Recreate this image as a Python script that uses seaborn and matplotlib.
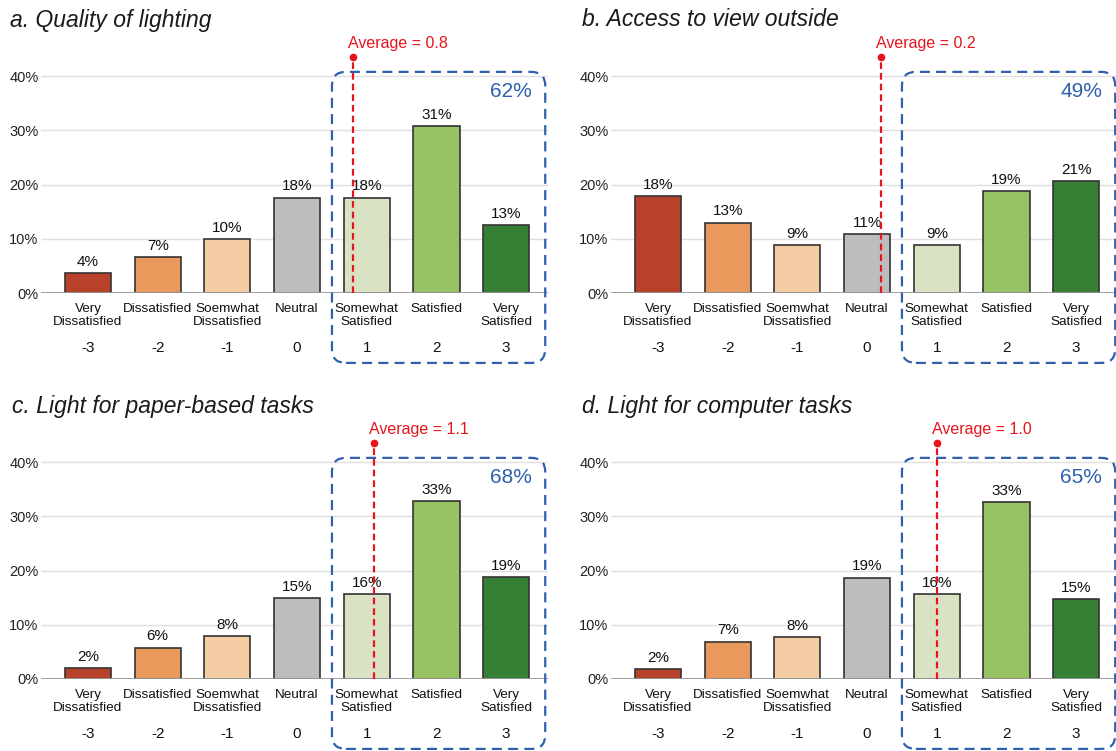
"""Satisfaction distributions (lighting / view) as 2x2 bar panels."""

import matplotlib

matplotlib.use("Agg")
import matplotlib.pyplot as plt
import matplotlib.transforms as mtransforms
from matplotlib.patches import FancyBboxPatch
import pandas as pd
import seaborn as sns

# --- data -------------------------------------------------------------------
categories = [
    "Very\nDissatisfied", "Dissatisfied", "Soemwhat\nDissatisfied", "Neutral",
    "Somewhat\nSatisfied", "Satisfied", "Very\nSatisfied",
]
scores = [-3, -2, -1, 0, 1, 2, 3]
bar_colors = ["#b8412b", "#e8995b", "#f4cda5", "#bdbdbd", "#d9e3c4", "#96c263", "#367f35"]

titles = [
    "a. Quality of lighting",
    "b. Access to view outside",
    "c. Light for paper-based tasks",
    "d. Light for computer tasks",
]
quality_of_lighting = [3.6, 6.6, 9.9, 17.6, 17.6, 30.8, 12.6]
access_to_view = [17.9, 13.0, 8.9, 10.9, 8.9, 18.8, 20.7]
paper_tasks = [2.0, 5.8, 7.9, 14.9, 15.7, 32.8, 18.8]
computer_tasks = [1.9, 6.9, 7.8, 18.7, 15.6, 32.6, 14.7]
averages = [0.8, 0.2, 1.1, 1.0]
satisfied_share = [62, 49, 68, 65]

RED = "#e8141c"
BLUE = "#2f60ae"

sns.set_style("white")
plt.rcParams["font.family"] = ["Liberation Sans", "DejaVu Sans"]

fig = plt.figure(figsize=(11.16, 7.51), dpi=100)

# axes geometry in pixels (px per category = 69.7, px per percent = 5.42)
px_x, px_y = 69.7, 5.42
xlim = (-0.68, 6.6)
ylim = (0, 44)
W, H = 1116, 751
first_bar = [(88, 293), (658, 293), (88, 679), (658, 679)]
title_pos = [(10, 20), (582, 20), (12, 407), (582, 407)]

series = [quality_of_lighting, access_to_view, paper_tasks, computer_tasks]

for k, values in enumerate(series):
    x0, y0 = first_bar[k]
    left = (x0 + xlim[0] * px_x) / W
    width = (xlim[1] - xlim[0]) * px_x / W
    bottom = (H - y0) / H
    height = (ylim[1] - ylim[0]) * px_y / H
    ax = fig.add_axes([left, bottom, width, height])

    df = pd.DataFrame({"cat": categories, "pct": values})
    sns.barplot(
        data=df, x="cat", y="pct", hue="cat", palette=bar_colors, legend=False,
        saturation=1, width=0.66, edgecolor="#333333", linewidth=1.2, ax=ax, zorder=3,
    )
    for cont in ax.containers:
        ax.bar_label(cont, fmt="%.0f%%", padding=3, fontsize=11, color="#111111", zorder=4)

    ax.set_xlim(*xlim)
    ax.set_ylim(*ylim)
    ax.set_yticks([0, 10, 20, 30, 40])
    ax.set_yticklabels(["0%", "10%", "20%", "30%", "40%"], fontsize=10.5, color="#222222")
    ax.yaxis.grid(True, color="#e0e0e0", linewidth=1, zorder=0)
    ax.axhline(0, color="#9a9a9a", linewidth=1.3, zorder=3)
    ax.set_xlabel("")
    ax.set_ylabel("")
    ax.tick_params(axis="both", length=0)
    ax.tick_params(axis="x", pad=7, labelsize=9.7, labelcolor="#111111")
    ax.tick_params(axis="y", pad=1.5)
    for lab in ax.get_xticklabels():
        lab.set_linespacing(1.1)
    sns.despine(ax=ax, left=True, bottom=True, top=True, right=True)

    trans = mtransforms.blended_transform_factory(ax.transData, ax.transAxes)
    for i, s in enumerate(scores):
        ax.text(i, -0.231, str(s), transform=trans, ha="center", va="center",
                fontsize=11, color="#111111")

    # satisfied block outline
    box = FancyBboxPatch(
        (3.5, -12.9), 3.06, 53.7,
        boxstyle="round,pad=0,rounding_size=0.2",
        mutation_aspect=px_x / px_y,
        fill=False, edgecolor=BLUE, linewidth=1.6, linestyle=(0, (4.5, 2.8)),
        clip_on=False, zorder=5,
    )
    ax.add_patch(box)
    ax.text(6.37, 37.1, f"{satisfied_share[k]}%", ha="right", va="center",
            fontsize=15, color=BLUE, zorder=6)

    # average marker
    avg_x = averages[k] + 3
    ax.plot([avg_x, avg_x], [0, 43.6], color=RED, linewidth=1.6,
            linestyle=(0, (3, 1.8)), clip_on=False, zorder=7)
    ax.plot([avg_x], [43.6], marker="o", markersize=4.5, color=RED,
            clip_on=False, zorder=7)
    ax.text(avg_x - 0.07, 45.2, f"Average = {averages[k]:.1f}", color=RED,
            fontsize=11.5, ha="left", va="baseline", clip_on=False)

    tx, ty = title_pos[k]
    fig.text(tx / W, 1 - ty / H, titles[k], fontsize=16.5, style="italic",
             ha="left", va="center", color="#1a1a1a")

fig.savefig("out.png", dpi=100)
